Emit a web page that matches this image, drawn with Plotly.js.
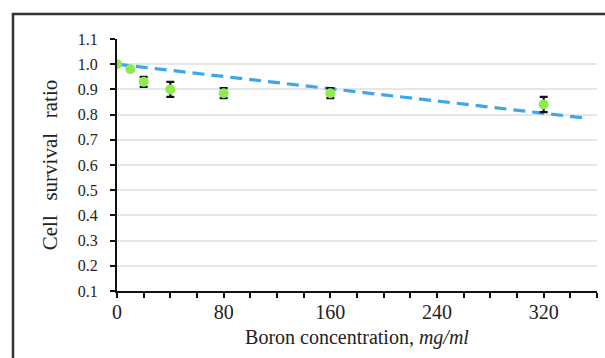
<!DOCTYPE html>
<html>
<head>
<meta charset="utf-8">
<script src="https://cdn.plot.ly/plotly-3.0.1.min.js"></script>
<style>html,body{margin:0;padding:0;background:#fff;}#chart{width:605px;height:358px;}</style>
</head>
<body>
<div id="chart"></div>
<script>
const concentration = [0, 10, 20, 40, 80, 160, 320];
const survival = [1.0, 0.98, 0.93, 0.90, 0.885, 0.885, 0.84];
const survivalErr = [0, 0, 0.02, 0.03, 0.02, 0.02, 0.03];
const trendX = [0, 350];
const trendY = [1.0, 0.787];
const xTicks = [0, 80, 160, 240, 320];
const yTicks = [0.1, 0.2, 0.3, 0.4, 0.5, 0.6, 0.7, 0.8, 0.9, 1.0, 1.1];

const serif = '"Liberation Serif", "Times New Roman", serif';
const sp = '\u00a0\u00a0\u2009';

const traces = [
  {
    x: trendX, y: trendY, mode: 'lines', type: 'scatter',
    line: {color: '#3ea6ec', width: 3.2, dash: '12px,7px'},
    hoverinfo: 'skip', showlegend: false
  },
  {
    x: concentration, y: survival, mode: 'markers', type: 'scatter',
    marker: {color: '#8fea4c', size: 10},
    error_y: {type: 'data', array: survivalErr, visible: true, color: '#111', thickness: 2.2, width: 4},
    showlegend: false
  }
];

const layout = {
  width: 605, height: 358,
  margin: {l: 117, r: 8, t: 39, b: 67},
  paper_bgcolor: '#fff', plot_bgcolor: '#fff',
  showlegend: false,
  xaxis: {
    range: [0, 360], tickvals: xTicks, ticktext: xTicks.map(String),
    ticks: 'outside', ticklen: 5, tickwidth: 2, tickcolor: '#111',
    minor: {dtick: 20, tick0: 0, ticks: 'outside', ticklen: 5, tickwidth: 2, tickcolor: '#111', showgrid: false},
    showline: true, linecolor: '#111', linewidth: 2,
    showgrid: false, zeroline: false,
    tickfont: {family: serif, size: 20, color: '#222'},
    ticklabelstandoff: -3,
    title: {text: 'Boron concentration, <i>mg/ml</i>', font: {family: serif, size: 20, color: '#222'}, standoff: 8}
  },
  yaxis: {
    range: [0.1, 1.1], tickvals: yTicks, ticktext: yTicks.map(v => v.toFixed(1)),
    ticks: 'outside', ticklen: 5, tickwidth: 2, tickcolor: '#111',
    showline: true, linecolor: '#111', linewidth: 2,
    showgrid: true, gridcolor: '#e6e6e6', gridwidth: 2, zeroline: false,
    tickfont: {family: serif, size: 16, color: '#222'},
    ticklabelstandoff: 9,
    title: {text: 'Cell' + sp + 'survival' + sp + 'ratio', font: {family: serif, size: 21, color: '#222'}, standoff: 14}
  },
  shapes: [
    {type: 'rect', xref: 'paper', yref: 'paper', x0: -0.2167, x1: 1.3, y0: -0.6, y1: 1.099,
     line: {color: '#333', width: 2.5}, fillcolor: 'rgba(0,0,0,0)', layer: 'below'}
  ]
};

Plotly.newPlot('chart', traces, layout, {displayModeBar: false, staticPlot: true});
</script>
</body>
</html>
